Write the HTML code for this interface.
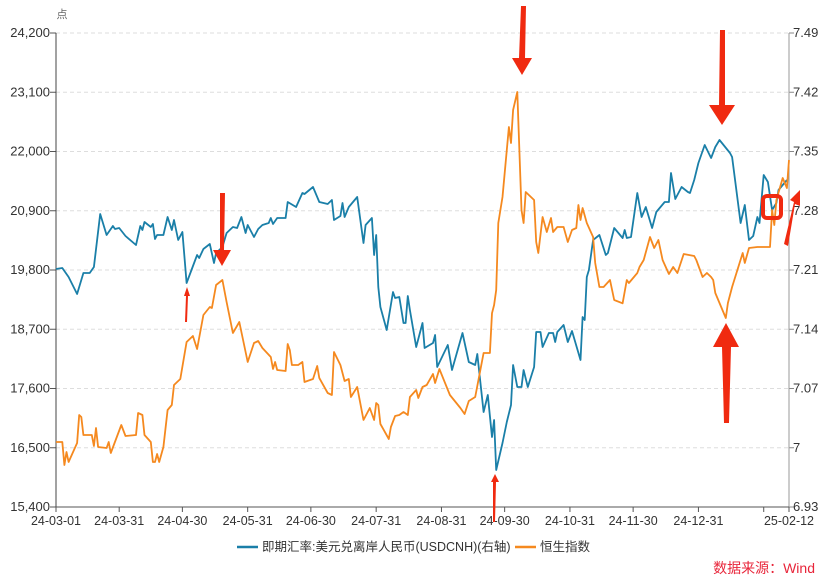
<!DOCTYPE html>
<html><head><meta charset="utf-8"><style>
html,body{margin:0;padding:0;background:#fff;}
svg{display:block;font-family:"Liberation Sans","Noto Sans CJK SC",sans-serif;}
</style></head><body>
<svg id="chart" width="830" height="582" viewBox="0 0 830 582" xmlns="http://www.w3.org/2000/svg">
<g id="grid"></g>
<g id="axes"></g>
<g id="series"></g>
<g id="annot">
  <polygon fill="#f02a10" points="220,193 225,193 224,250 231,250 222,266 213,250 220,250"/>
  <polygon fill="#f02a10" points="185,322 187,322 188,296 190,296 187,287 184,296 186,296"/>
  <polygon fill="#f02a10" points="521,6 526,6 525,58 532,58 522,75 512,58 519,58"/>
  <polygon fill="#f02a10" points="720,30 725,30 725,105 735,105 722,125 709,105 719,105"/>
  <polygon fill="#f02a10" points="724,423 729,423 731,347 739,347 726,323 713,347 722,347"/>
  <polygon fill="#f02a10" points="493,522 495,522 496,482 499,482 495,474 491,482 493,482"/>
  <rect x="763" y="196" width="18" height="22" rx="4" fill="none" stroke="#f02a10" stroke-width="4"/>
  <polygon fill="#f02a10" points="784,244 788,246 795,204 800,206 800,190 790,200 794,202"/>
</g>
<g id="legend">
  <g>
    <line x1="237" y1="547" x2="258" y2="547" stroke="#1a7fa8" stroke-width="2.5"/>
    <text x="262" y="551" font-size="12.5" fill="#333">即期汇率:美元兑离岸人民币(USDCNH)(右轴)</text>
  </g>
  <g>
    <line x1="515" y1="547" x2="536" y2="547" stroke="#f5891f" stroke-width="2.5"/>
    <text x="540" y="551" font-size="12.5" fill="#333">恒生指数</text>
  </g>
</g>
<text x="815" y="573" text-anchor="end" font-size="14" fill="#e8253a">数据来源：Wind</text>
<text x="62" y="18" text-anchor="middle" font-size="11" fill="#666">点</text>
</svg>
<script>
const tickDates = ["24-03-01","24-03-31","24-04-30","24-05-31","24-06-30","24-07-31","24-08-31","24-09-30","24-10-31","24-11-30","24-12-31","25-01-31","25-02-12"];
const tickDays = [0,30,60,91,121,152,183,213,244,274,305,336,348];
const leftTicks = [15400,16500,17600,18700,19800,20900,22000,23100,24200];
const rightTicks = ["6.93","7","7.07","7.14","7.21","7.28","7.35","7.42","7.49"];
const hsiDays = [0,3,4,5,6,10,11,12,13,17,18,19,20,24,25,26,31,33,38,39,41,42,45,46,47,48,49,51,53,55,56,59,62,65,67,70,73,74,76,79,81,84,87,91,94,96,98,102,103,104,105,109,110,111,112,115,117,118,122,124,125,129,131,132,135,137,139,140,143,146,149,151,152,153,154,158,159,161,163,165,167,168,171,172,174,176,179,180,182,187,192,194,196,199,203,206,207,208,209,210,212,215,216,217,219,221,222,223,227,228,229,231,233,235,236,238,241,243,245,247,248,249,250,252,255,256,258,260,263,265,269,271,272,276,277,279,282,284,286,288,291,293,295,298,303,304,307,309,311,312,313,318,319,321,326,327,329,333,339,340,341,342,345,347,348];
const hsiValues = [16607,16607,16180,16421,16236,16588,17108,17071,16737,16737,16533,16867,16514,16496,16607,16403,16923,16718,16737,17145,17108,16737,16607,16236,16236,16384,16236,16514,17201,17294,17665,17776,18463,18575,18334,18965,19113,19095,19522,19614,19206,18631,18835,18092,18445,18482,18352,18185,17962,18092,17944,17925,18426,18315,18037,18037,18092,17721,17776,18018,17795,17517,17479,18278,18037,17739,17776,17442,17628,17015,17238,17015,17331,17294,16941,16663,16886,17090,17108,17164,17108,17442,17572,17424,17628,17665,17869,17702,17962,17479,17238,17127,17368,17442,18259,18259,18998,19150,19429,20673,21155,22455,22158,22771,23105,20914,20673,21248,21100,20320,20116,20784,20506,20765,20506,20598,20598,20320,20543,20580,21007,20728,20951,20673,20413,19930,19485,19485,19614,19243,19182,19614,19559,19744,19856,19986,20413,20209,20357,19986,19726,19856,19744,20097,20060,19986,19670,19744,19670,19614,19373,18909,19188,19485,20116,19930,20209,20227,20227,20914,20635,21100,21508,21322,21842];
const usdDays = [0,3,6,10,13,16,18,21,24,27,28,30,33,38,40,41,42,45,46,47,48,51,53,55,56,58,60,62,67,68,70,73,75,76,79,81,84,86,88,90,91,94,96,98,101,102,103,105,109,110,114,117,118,122,125,129,131,132,135,136,137,139,143,146,147,150,151,152,153,154,157,160,161,163,165,166,167,168,171,174,175,179,180,181,186,188,193,196,199,200,203,205,207,208,209,212,214,216,217,219,221,222,224,227,228,230,231,234,236,237,238,241,243,245,249,250,251,252,253,255,258,261,262,265,269,270,271,273,276,278,280,283,285,289,291,292,294,297,300,301,303,305,308,311,313,315,320,321,325,327,329,331,333,334,336,338,340,342,343,345,347];
const usdValues = [7.2112,7.2124,7.2017,7.1817,7.2065,7.2065,7.2136,7.2762,7.2514,7.2620,7.2584,7.2596,7.2502,7.2395,7.2620,7.2573,7.2667,7.2608,7.2644,7.2466,7.2514,7.2514,7.2726,7.2573,7.2691,7.2455,7.2549,7.1947,7.2277,7.2242,7.2348,7.2407,7.2183,7.2301,7.2372,7.2537,7.2608,7.2596,7.2726,7.2537,7.2632,7.2490,7.2584,7.2632,7.2655,7.2714,7.2644,7.2714,7.2714,7.2903,7.2844,7.3010,7.2998,7.3081,7.2903,7.2880,7.2927,7.2691,7.2738,7.2892,7.2726,7.2844,7.2963,7.2419,7.2632,7.2714,7.2277,7.2514,7.1899,7.1663,7.1391,7.1840,7.1769,7.1781,7.1474,7.1474,7.1793,7.1628,7.1190,7.1474,7.1179,7.1238,7.1332,7.0954,7.1214,7.0919,7.1356,7.1013,7.0978,7.1108,7.0422,7.0623,7.0127,7.0328,6.9737,7.0056,7.0304,7.0505,7.0978,7.0718,7.0718,7.0919,7.0718,7.0954,7.1368,7.1368,7.1190,7.1356,7.1356,7.1249,7.1368,7.1450,7.1249,7.1379,7.1037,7.1545,7.1509,7.2017,7.2100,7.2455,7.2514,7.2277,7.2301,7.2596,7.2478,7.2573,7.2478,7.2490,7.3010,7.2726,7.2844,7.2596,7.2785,7.2903,7.2903,7.3246,7.2939,7.3081,7.3022,7.3010,7.3163,7.3364,7.3577,7.3423,7.3553,7.3636,7.3482,7.3435,7.2655,7.2868,7.2455,7.2502,7.2726,7.2655,7.3222,7.3140,7.2809,7.2892,7.3045,7.3104,7.3163];

const NS="http://www.w3.org/2000/svg";
const L=56,R=789,T=33,B=507;
const xS=d=>L+(d/348)*(R-L);
const yL=v=>B-(v-15400)/(24200-15400)*(B-T);
const yR=v=>B-(v-6.93)/(7.49-6.93)*(B-T);
function mk(tag,parent){const e=document.createElementNS(NS,tag);parent.appendChild(e);return e;}
const grid=document.getElementById('grid'),axes=document.getElementById('axes'),ser=document.getElementById('series');

leftTicks.forEach((v,i)=>{
  const y=yL(v);
  if(i>0){const g=mk('line',grid);
    
    
    g.setAttribute('x1',L);g.setAttribute('x2',R);g.setAttribute('y1',y);g.setAttribute('y2',y);
    g.setAttribute('stroke','#dddddd');g.setAttribute('stroke-dasharray','4,3');}
  const t=mk('line',axes);
  
  
  t.setAttribute('x1',L-6);t.setAttribute('x2',L);t.setAttribute('y1',y);t.setAttribute('y2',y);t.setAttribute('stroke','#555');
  const tx=mk('text',axes);
  
  
  tx.setAttribute('x',L-6);tx.setAttribute('y',y+4);tx.setAttribute('text-anchor','end');tx.setAttribute('font-size','13');tx.setAttribute('fill','#333');
  tx.textContent=v.toLocaleString('en-US');
});
rightTicks.forEach(s=>{
  const y=yR(parseFloat(s));
  const t=mk('line',axes);
  
  
  t.setAttribute('x1',R);t.setAttribute('x2',R+5);t.setAttribute('y1',y);t.setAttribute('y2',y);t.setAttribute('stroke','#888');
  const tx=mk('text',axes);
  
  
  tx.setAttribute('x',R+4);tx.setAttribute('y',y+4);tx.setAttribute('font-size','13');tx.setAttribute('fill','#333');
  tx.textContent=s;
});
tickDays.forEach((d,i)=>{
  const x=xS(d);
  const t=mk('line',axes);
  
  
  t.setAttribute('x1',x);t.setAttribute('x2',x);t.setAttribute('y1',B);t.setAttribute('y2',B+5);t.setAttribute('stroke','#555');
  if(tickDates[i]!=="25-01-31"){
    const tx=mk('text',axes);
    
    
    tx.setAttribute('x',x);tx.setAttribute('y',B+18);tx.setAttribute('text-anchor','middle');tx.setAttribute('font-size','12.5');tx.setAttribute('fill','#333');
    tx.textContent=tickDates[i];
  }
});
[[L,T,L,B,'#444','left-axis-line'],[R,T,R,B,'#999','right-axis-line'],[L,B,R,B,'#555','x-axis-line']].forEach(a=>{
  const l=mk('line',axes);
  
  
  l.setAttribute('x1',a[0]);l.setAttribute('y1',a[1]);l.setAttribute('x2',a[2]);l.setAttribute('y2',a[3]);l.setAttribute('stroke',a[4]);
});
function line(days,vals,yf,color,name){
  const p=mk('polyline',ser);
  
  
  p.setAttribute('points',days.map((d,i)=>xS(d).toFixed(1)+','+yf(vals[i]).toFixed(1)).join(' '));
  p.setAttribute('fill','none');p.setAttribute('stroke',color);p.setAttribute('stroke-width','1.8');p.setAttribute('stroke-linejoin','round');
}
line(usdDays,usdValues,yR,'#1a7fa8','usdcnh-line');
line(hsiDays,hsiValues,yL,'#f5891f','hsi-line');
const an=document.getElementById('annot');ser.parentNode.appendChild(an);
</script>
</body></html>
